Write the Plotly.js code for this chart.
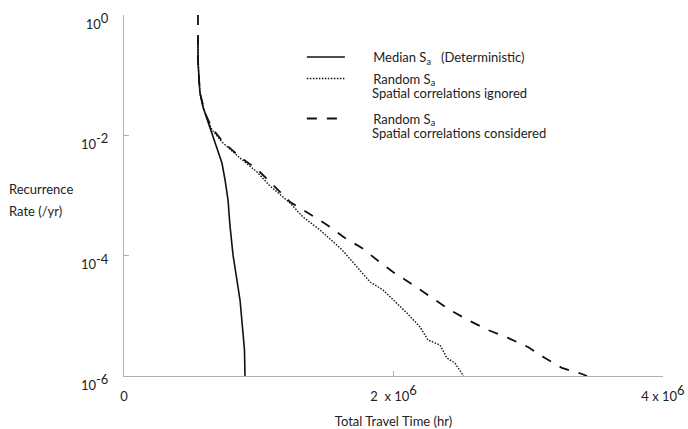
<!DOCTYPE html>
<html>
<head>
<meta charset="utf-8">
<script src="https://cdn.plot.ly/plotly-3.0.1.min.js"></script>
<style>html,body{margin:0;padding:0;background:#fff;}#chart{width:688px;height:429px;}</style>
</head>
<body>
<div id="chart"></div>
<script>
// Total travel time (hr) and recurrence rate (/yr)
const medianTime = [0.549e6,0.549e6,0.557e6,0.564e6,0.586e6,0.638e6,0.690e6,0.727e6,0.750e6,0.772e6,0.786e6,0.809e6,0.838e6,0.861e6,0.883e6,0.894e6,0.898e6];
const medianRate = [0.431,0.179,0.0832,0.0506,0.0296,0.0138,0.0064,0.00347,0.00181,8.41e-4,3.24e-4,1.03e-4,3.94e-5,1.83e-5,5.19e-6,2.70e-6,1e-6];

const ignoredTime = [0.549e6,0.549e6,0.557e6,0.564e6,0.586e6,0.601e6,0.653e6,0.735e6,0.861e6,0.987e6,1.083e6,1.232e6,1.328e6,1.455e6,1.596e6,1.633e6,1.729e6,1.826e6,1.922e6,2.026e6,2.100e6,2.197e6,2.256e6,2.345e6,2.397e6,2.456e6,2.52e6];
const ignoredRate = [0.431,0.179,0.0832,0.0506,0.0319,0.0235,0.0123,0.00746,0.0042,0.00246,0.00144,7.52e-4,4.40e-4,2.67e-4,1.39e-4,1.15e-4,6.49e-5,3.66e-5,2.69e-5,1.64e-5,1.11e-5,6.53e-6,3.96e-6,3.27e-6,1.99e-6,1.64e-6,1e-6];

const consideredTime = [0.549e6,0.549e6,0.549e6,0.557e6,0.564e6,0.586e6,0.601e6,0.653e6,0.735e6,0.861e6,0.994e6,1.106e6,1.232e6,1.366e6,1.507e6,1.640e6,1.766e6,1.878e6,1.996e6,2.145e6,2.286e6,2.419e6,2.553e6,2.701e6,2.850e6,2.998e6,3.124e6,3.250e6,3.399e6,3.436e6];
const consideredRate = [1,0.431,0.179,0.0832,0.0506,0.0319,0.0235,0.0132,0.00774,0.00437,0.00265,0.0015,7.80e-4,5.12e-4,3.24e-4,1.97e-4,1.34e-4,8.47e-5,5.36e-5,3.26e-5,1.98e-5,1.25e-5,8.53e-6,5.82e-6,4.29e-6,3.03e-6,1.99e-6,1.36e-6,1.08e-6,1e-6];

const xTickVals = [0, 2e6, 4e6];
const xTickText = ['0', '2 \u00a0x 10<sup><span style="font-size:13px">6</span></sup>', '4 x 10<sup><span style="font-size:13px">6</span></sup>'];
const yTickVals = [1, 1e-2, 1e-4, 1e-6];
const yTickText = ['10<sup><span style="font-size:13px">0</span></sup>','10<sup><span style="font-size:13px">-2</span></sup>','10<sup><span style="font-size:13px">-4</span></sup>','10<sup><span style="font-size:13px">-6</span></sup>'];

const PAD = '\u00a0'.repeat(7);
const seriesNames = [
  PAD + 'Median S<sub>a</sub>\u00a0\u00a0\u00a0(Deterministic)',
  PAD + 'Random S<sub>a</sub>',
  PAD + 'Random S<sub>a</sub>'
];
const seriesNotes = ['', 'Spatial correlations ignored', 'Spatial correlations considered'];

const FONT = 'Lato, "Open Sans", sans-serif';
const TXT = {family: FONT, size: 13, color: '#222'};

const traces = [
  {x: medianTime, y: medianRate, name: seriesNames[0], legend: 'legend', mode: 'lines', line: {color: '#111', width: 1.6}},
  {x: ignoredTime, y: ignoredRate, name: seriesNames[1], legend: 'legend2', mode: 'lines', line: {color: '#111', width: 1.4, dash: '1.5px,1.5px'}},
  {x: consideredTime, y: consideredRate, name: seriesNames[2], legend: 'legend3', mode: 'lines', line: {color: '#111', width: 1.8, dash: '10px,10px'}}
];

function legendAt(y) {
  return {x: 0.33, y: y, xanchor: 'left', yanchor: 'top', bgcolor: 'rgba(0,0,0,0)',
          font: TXT, valign: 'top', itemwidth: 38};
}

const layout = {
  width: 688, height: 429,
  margin: {l: 124, r: 25, t: 15, b: 53},
  paper_bgcolor: '#fff', plot_bgcolor: '#fff',
  font: TXT,
  showlegend: true,
  legend: legendAt(0.925),
  legend2: legendAt(0.8655),
  legend3: legendAt(0.7547),
  xaxis: {
    type: 'linear', range: [0, 4e6], tickvals: xTickVals, ticktext: xTickText,
    showgrid: false, zeroline: false, showline: true, linecolor: '#b0b0b0', linewidth: 1,
    ticks: 'inside', ticklen: 5, tickcolor: '#b0b0b0',
    tickfont: TXT, ticklabelstandoff: 8, ticklabeloverflow: 'allow',
    title: {text: 'Total Travel Time (hr)', font: TXT, standoff: 16},
    fixedrange: true
  },
  yaxis: {
    type: 'log', range: [-6, 0], tickvals: yTickVals, ticktext: yTickText,
    showgrid: false, zeroline: false, showline: true, linecolor: '#b0b0b0', linewidth: 1,
    ticks: 'inside', ticklen: 5, tickcolor: '#b0b0b0',
    tickfont: TXT, ticklabelstandoff: 12, ticklabelshift: 9, ticklabeloverflow: 'allow',
    fixedrange: true
  },
  annotations: [
    {xref: 'paper', yref: 'paper', x: -0.217, y: 0.518, xanchor: 'left', yanchor: 'middle', showarrow: false,
     text: 'Recurrence', font: TXT},
    {xref: 'paper', yref: 'paper', x: -0.217, y: 0.457, xanchor: 'left', yanchor: 'middle', showarrow: false,
     text: 'Rate (/yr)', font: TXT},
    {xref: 'paper', yref: 'paper', x: 0.4564, y: 0.7840, xanchor: 'left', yanchor: 'middle', showarrow: false,
     text: seriesNotes[1], font: TXT},
    {xref: 'paper', yref: 'paper', x: 0.4564, y: 0.6740, xanchor: 'left', yanchor: 'middle', showarrow: false,
     text: seriesNotes[2], font: TXT}
  ]
};

Plotly.newPlot('chart', traces, layout, {staticPlot: true, displayModeBar: false});
</script>
</body>
</html>
